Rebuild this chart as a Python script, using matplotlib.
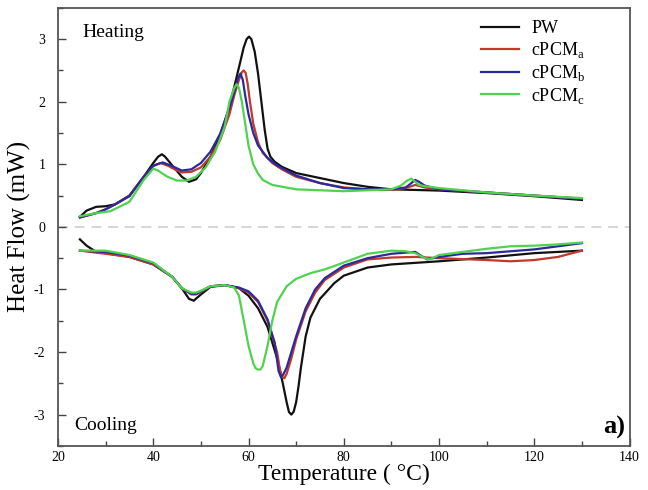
import matplotlib
matplotlib.use("Agg")
import matplotlib.pyplot as plt
from matplotlib.ticker import MultipleLocator

plt.rcParams["font.family"] = ["Liberation Serif", "DejaVu Serif"]
plt.rcParams["mathtext.fontset"] = "custom"
plt.rcParams["mathtext.rm"] = "Liberation Serif"
plt.rcParams["axes.unicode_minus"] = False

# --- heating curves (Temperature in °C, heat flow in mW) ---
pw_heat_t = [24.6, 26, 28, 30, 32, 35, 38, 40, 41, 41.8, 42.5, 44, 46, 47.5, 49, 50, 52, 54, 56,
             58, 59, 59.6, 60.1, 60.6, 61.3, 62, 62.7, 63.4, 64, 64.6, 65.5, 67, 70, 75, 80, 85,
             90, 100, 110, 120, 130]
pw_heat = [0.16, 0.26, 0.32, 0.33, 0.36, 0.49, 0.80, 1.02, 1.12, 1.16, 1.12, 0.98, 0.80, 0.72,
           0.76, 0.86, 1.12, 1.45, 1.92, 2.55, 2.87, 3.00, 3.04, 3.00, 2.80, 2.45, 2.00, 1.55,
           1.25, 1.12, 1.04, 0.96, 0.86, 0.78, 0.70, 0.64, 0.60, 0.58, 0.54, 0.49, 0.43]

a_heat_t = [24.6, 28, 30, 32, 35, 38, 40, 41.5, 43, 45, 46, 48, 50, 52, 54, 56, 57, 58, 58.6, 59,
            59.4, 59.8, 60.3, 61, 62, 63, 65, 67, 70, 75, 80, 85, 90, 93, 95, 97, 100, 110, 120,
            130]
a_heat = [0.15, 0.22, 0.28, 0.36, 0.50, 0.80, 0.97, 1.02, 0.98, 0.90, 0.87, 0.88, 0.95, 1.12,
          1.38, 1.80, 2.10, 2.35, 2.47, 2.50, 2.46, 2.30, 2.00, 1.65, 1.35, 1.18, 1.02, 0.92,
          0.80, 0.70, 0.63, 0.60, 0.59, 0.62, 0.67, 0.63, 0.60, 0.55, 0.50, 0.45]

b_heat_t = [24.6, 28, 30, 32, 35, 38, 40, 42, 44, 46, 48, 50, 52, 54, 56, 57, 57.8, 58.3, 58.8,
            59.3, 60, 61, 62, 64, 66, 70, 75, 80, 85, 90, 93, 94.2, 95, 95.8, 97, 100, 110, 120,
            130]
b_heat = [0.15, 0.22, 0.28, 0.36, 0.50, 0.80, 0.98, 1.03, 0.97, 0.90, 0.92, 1.02, 1.20, 1.48,
          1.90, 2.15, 2.38, 2.45, 2.35, 2.10, 1.80, 1.50, 1.30, 1.10, 0.98, 0.82, 0.70, 0.62,
          0.60, 0.60, 0.63, 0.70, 0.75, 0.72, 0.66, 0.60, 0.55, 0.50, 0.45]

c_heat_t = [24.6, 28, 31, 35, 38, 40, 41, 43, 45, 47, 49, 51, 53, 55, 56, 57, 57.5, 58, 58.6, 59.3,
            60, 61, 62, 63, 65, 70, 80, 90, 92, 93.3, 94.2, 95, 95.8, 97, 100, 110, 120, 130]
c_heat = [0.17, 0.22, 0.25, 0.40, 0.75, 0.93, 0.90, 0.80, 0.74, 0.74, 0.80, 0.95, 1.20, 1.60,
          2.00, 2.22, 2.28, 2.22, 2.00, 1.65, 1.30, 1.00, 0.85, 0.75, 0.67, 0.60, 0.57, 0.60,
          0.66, 0.74, 0.77, 0.72, 0.67, 0.65, 0.62, 0.55, 0.50, 0.46]

# --- cooling curves ---
pw_cool_t = [24.6, 26, 28, 30, 35, 40, 44, 46, 47.5, 48.5, 50, 52, 55, 58, 60, 62, 64, 66, 67.2,
             68, 68.5, 69, 69.5, 70, 70.5, 71, 72, 73, 75, 78, 80, 85, 90, 100, 110, 120, 130]
pw_cool = [-0.20, -0.30, -0.40, -0.42, -0.48, -0.60, -0.80, -0.98, -1.15, -1.18, -1.08, -0.96,
           -0.93, -0.98, -1.10, -1.30, -1.60, -2.10, -2.50, -2.80, -2.96, -3.00, -2.95, -2.80,
           -2.55, -2.25, -1.75, -1.45, -1.15, -0.90, -0.78, -0.65, -0.60, -0.55, -0.49, -0.42,
           -0.38]

a_cool_t = [24.6, 30, 35, 40, 44, 46, 48, 49, 50, 52, 55, 58, 60, 62, 64, 66, 66.6, 67.1, 67.5,
            68, 69, 70, 72, 74, 76, 80, 85, 90, 95, 100, 110, 115, 120, 125, 130]
a_cool = [-0.38, -0.43, -0.48, -0.60, -0.80, -0.98, -1.08, -1.08, -1.04, -0.95, -0.93, -0.98,
          -1.05, -1.20, -1.50, -2.00, -2.28, -2.40, -2.42, -2.35, -2.10, -1.80, -1.35, -1.05,
          -0.85, -0.65, -0.52, -0.49, -0.48, -0.50, -0.53, -0.55, -0.53, -0.48, -0.38]

b_cool_t = [24.6, 30, 35, 40, 44, 46, 48, 49, 50, 52, 55, 58, 60, 62, 64, 65.5, 66.3, 66.8, 67.3,
            68, 70, 72, 74, 76, 80, 85, 90, 95, 96, 97.5, 100, 105, 110, 120, 130]
b_cool = [-0.38, -0.40, -0.46, -0.58, -0.80, -0.98, -1.07, -1.07, -1.03, -0.95, -0.93, -0.97,
          -1.03, -1.18, -1.48, -1.85, -2.30, -2.40, -2.36, -2.25, -1.75, -1.30, -1.00, -0.82,
          -0.62, -0.50, -0.43, -0.40, -0.45, -0.52, -0.48, -0.43, -0.42, -0.36, -0.26]

c_cool_t = [24.6, 30, 35, 40, 44, 46, 48, 49, 50, 52, 55, 57, 58, 59, 60, 61, 61.5, 62, 62.5, 63,
            64, 65, 66, 68, 70, 73, 76, 80, 85, 90, 93, 95, 97, 98, 100, 105, 110, 115, 120, 125,
            130]
c_cool = [-0.38, -0.38, -0.45, -0.57, -0.80, -0.98, -1.05, -1.05, -1.02, -0.95, -0.93, -0.97,
          -1.10, -1.50, -1.90, -2.18, -2.26, -2.28, -2.28, -2.22, -1.90, -1.50, -1.20, -0.95,
          -0.83, -0.74, -0.68, -0.57, -0.43, -0.38, -0.39, -0.42, -0.50, -0.52, -0.45, -0.40,
          -0.35, -0.31, -0.30, -0.28, -0.25]

labels = ["PW", r"cPCM$_{\rm a}$", r"cPCM$_{\rm b}$", r"cPCM$_{\rm c}$"]
colors = ["#111111", "#c0392b", "#2a2a9c", "#4fd24f"]

fig = plt.figure(figsize=(6.48, 4.90), dpi=100)
ax = fig.add_axes([0.0895, 0.09, 0.882, 0.894])

ax.axhline(0, color="#d0d0d0", lw=1.2, ls=(0, (6, 4)), zorder=1)

heats = [(pw_heat_t, pw_heat), (a_heat_t, a_heat), (b_heat_t, b_heat), (c_heat_t, c_heat)]
cools = [(pw_cool_t, pw_cool), (a_cool_t, a_cool), (b_cool_t, b_cool), (c_cool_t, c_cool)]
for (ht, hv), (ct, cv), lab, col in zip(heats, cools, labels, colors):
    ax.plot(ht, hv, color=col, lw=1.6, label=lab, zorder=3, solid_joinstyle="round")
    ax.plot(ct, cv, color=col, lw=1.6, zorder=3, solid_joinstyle="round")

ax.set_xlim(20, 140)
ax.set_ylim(-3.5, 3.5)
ax.set_xticks([20, 40, 60, 80, 100, 120, 140])
ax.set_yticks([-3, -2, -1, 0, 1, 2, 3])
ax.xaxis.set_minor_locator(MultipleLocator(10))
ax.yaxis.set_minor_locator(MultipleLocator(0.5))
ax.tick_params(which="both", direction="in", top=False, right=False,
               labelsize=10, color="#444444", width=1)
ax.tick_params(which="major", length=6)
ax.tick_params(which="minor", length=3.5)
ax.tick_params(axis="y", which="major", pad=9)
for s in ax.spines.values():
    s.set_color("#555555")
    s.set_linewidth(1.3)

ax.set_xlabel("Temperature ( °C)", fontsize=17, labelpad=0)
ax.set_ylabel("Heat Flow (mW)", fontsize=18, labelpad=2)

ax.text(25.2, 3.04, "Heating", fontsize=14)
ax.text(23.5, -3.24, "Cooling", fontsize=14)
ax.text(139, -3.3, "a)", fontsize=19, fontweight="bold", ha="right")

ax.legend(loc="upper right", bbox_to_anchor=(0.945, 1.0), frameon=False, fontsize=13,
          handlelength=2.1, labelspacing=0.15, handletextpad=0.7, borderaxespad=0.3)

fig.savefig("out.png", dpi=100)
